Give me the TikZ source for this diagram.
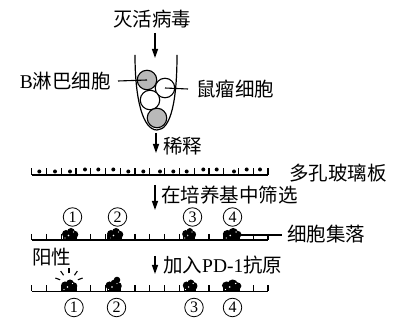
\documentclass[tikz,border=0pt]{standalone}
\usepackage{fontspec}
\setmainfont{Liberation Serif}
\newfontfamily\cjk{Noto Sans CJK SC}
\usetikzlibrary{arrows.meta}

\tikzset{
  colonyblob/.pic={
    \fill (-7,0) rectangle (7,-5);
    \fill (-4,-6) circle[radius=4pt];
    \fill (1,-8) circle[radius=4pt];
    \fill (4.5,-5.5) circle[radius=3.8pt];
    \fill[white] (-1.5,-4.5) circle[radius=0.8pt];
    \fill[white] (3.5,-8) circle[radius=0.7pt];
    \fill[white] (-5,-2) circle[radius=0.6pt];
  }
}

\begin{document}
\begin{tikzpicture}[x=1pt,y=-1pt,
  lbl/.style={inner sep=0pt, font=\cjk\fontsize{19.5pt}{22pt}\selectfont},
  flow/.style={line width=1.3pt, -{Triangle[length=9pt,width=6pt]}},
  cellw/.style={circle, draw, line width=1.1pt, fill=white, minimum size=19.5pt, inner sep=0pt},
  cellg/.style={cellw, fill=gray!55},
  num/.style={circle, draw, line width=0.8pt, minimum size=18.5pt, inner sep=0pt,
              font=\fontsize{16pt}{16pt}\selectfont},
  wall/.style={line width=1.2pt},
  lead/.style={line width=1.1pt}]
\useasboundingbox (0,0) rectangle (397,320);

% ---- fusion tube with the two cell types ----
\draw[wall] (135,55) .. controls (135,100) and (143,130) .. (157,130)
            .. controls (171,130) and (177,100) .. (177,55);
\node[cellg] (g1) at (147,80) {};
\node[cellw] (w1) at (165,88) {};
\node[cellw] (w2) at (150,100) {};
\node[cellg] (g2) at (157,118) {};

\node[lbl] (virus) at (152.5,19) {灭活病毒};
\node[lbl, anchor=east] (bcell) at (111,81) {{\rmfamily B}淋巴细胞};
\node[lbl, anchor=west] (myeloma) at (196,89) {鼠瘤细胞};
\draw[lead] ([xshift=7pt]bcell.east) -- (g1.center);
\draw[lead] (w1.center) -- ([xshift=-8pt]myeloma.west);

\coordinate (a1s) at (155,33);  \coordinate (a1e) at (155,58);
\draw[flow] (a1s) -- (a1e);

% ---- dilution into the multi-well plate ----
\coordinate (a2s) at (156,133); \coordinate (a2e) at (156,153);
\draw[flow] (a2s) -- (a2e);
\node[lbl, anchor=west] (dilute) at (163,146) {稀释};

\draw[wall] (31.7,175) -- (268,175);
\foreach \i in {0,...,16}
  \draw[wall] (31.7+\i*14.77,168.5) -- (31.7+\i*14.77,175);
\foreach \x/\y in {39.3/171.5, 55/171.5, 70/171.5, 85/169.5, 98.3/169.5,
                   113.3/169.5, 128.3/171.5, 143.3/171.5, 160/171.5, 173.3/171.5,
                   186.7/171.5, 203.3/169.5, 216.7/169.5, 234/171.5, 246.7/169.5,
                   260/169.5}
  \fill (\x,\y) circle[radius=2pt];
\node[lbl, anchor=west] (plate) at (289,173.5) {多孔玻璃板};

% ---- screening: colonies ----
\coordinate (a3s) at (155,185); \coordinate (a3e) at (155,210);
\draw[flow] (a3s) -- (a3e);
\node[lbl, anchor=west] (screen) at (161,195) {在培养基中筛选};

\node[num] (n1a) at (72.5,217) {1};
\node[num] (n2a) at (117.5,217) {2};
\node[num] (n3a) at (192.5,217) {3};
\node[num] (n4a) at (232.5,217) {4};

\draw[wall] (31.7,240) -- (268,240);
\foreach \i in {0,...,16}
  \draw[wall] (31.7+\i*14.77,234) -- (31.7+\i*14.77,240);
\pic at (70,240) {colonyblob};
\pic at (115,240) {colonyblob};
\fill (106.5,240) rectangle (109.5,235.5);
\pic[xscale=0.85] at (189,240) {colonyblob};
\pic[xscale=1.15] at (232,240) {colonyblob};

\node[lbl, anchor=west] (colonies) at (287,234) {细胞集落};
\coordinate (c4r) at (238,235);
\draw[lead] (c4r) -- ([xshift=-5pt]colonies.west |- c4r);

% ---- PD-1 antigen test ----
\coordinate (a4s) at (155,256); \coordinate (a4e) at (155,274);
\draw[flow] (a4s) -- (a4e);
\node[lbl, anchor=west] (antigen) at (163,265.5) {加入{\rmfamily PD-1}抗原};
\node[lbl, anchor=west] (positive) at (32,257) {阳性};

\draw[wall] (31.7,291.5) -- (268,291.5);
\foreach \i in {0,...,16}
  \draw[wall] (31.7+\i*14.77,285.5) -- (31.7+\i*14.77,291.5);
\pic at (69,291.5) {colonyblob};
\pic at (113.5,291.5) {colonyblob};
\fill (117,280) circle[radius=3.3pt];
\pic[xscale=0.9] at (190,291.5) {colonyblob};
\pic[xscale=1.2] at (231.5,291.5) {colonyblob};

% glow rays over the positive colony
\coordinate (glow) at (69,283);
\foreach \a in {-160,-125,-90,-55,-20}
  \draw[line width=1.1pt] (glow) ++(\a:9.5) -- ++(\a:5);

\node[num] (n1b) at (74,307.5) {1};
\node[num] (n2b) at (116.5,307.5) {2};
\node[num] (n3b) at (194,307.5) {3};
\node[num] (n4b) at (232.5,307.5) {4};
\end{tikzpicture}
\end{document}
